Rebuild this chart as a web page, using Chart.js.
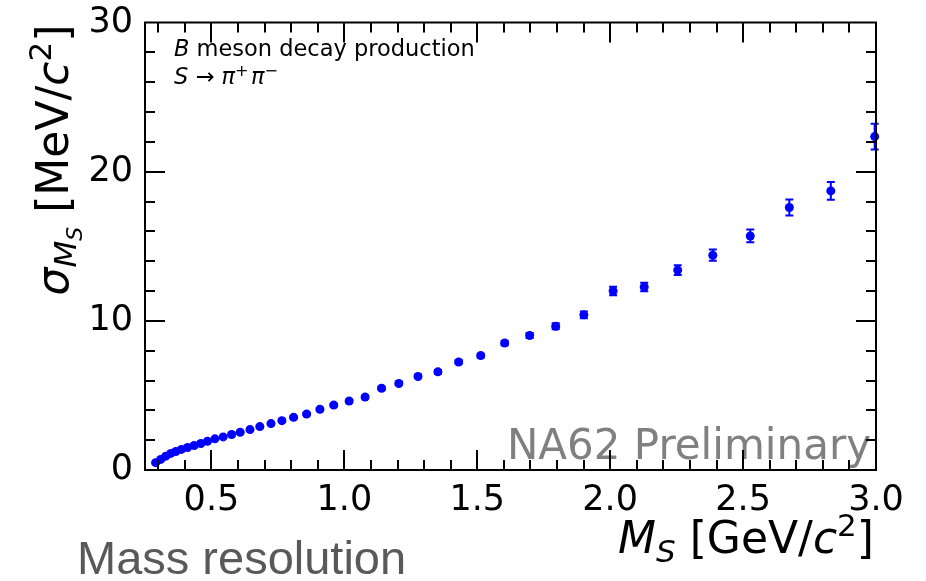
<!DOCTYPE html>
<html>
<head>
<meta charset="utf-8">
<script src="https://cdn.jsdelivr.net/npm/chart.js@4.4.0/dist/chart.umd.min.js"></script>
<style>
  html, body { margin: 0; padding: 0; background: #fff; }
  #wrap { width: 926px; height: 581px; }
</style>
</head>
<body>
<div id="wrap"><canvas id="massChart" width="926" height="581"></canvas></div>
<script>
const massValues = [0.29, 0.309, 0.328, 0.347, 0.366, 0.387, 0.41, 0.435, 0.46, 0.485,
  0.513, 0.544, 0.576, 0.608, 0.645, 0.682, 0.724, 0.765, 0.809, 0.858,
  0.908, 0.96, 1.018, 1.078, 1.14, 1.205, 1.277, 1.352, 1.43, 1.513,
  1.603, 1.697, 1.795, 1.901, 2.011, 2.128, 2.254, 2.386, 2.527, 2.674,
  2.83, 2.995];
const sigmaValues = [0.49, 0.71, 0.93, 1.11, 1.24, 1.38, 1.51, 1.64, 1.78, 1.93,
  2.09, 2.22, 2.38, 2.53, 2.71, 2.91, 3.11, 3.31, 3.53, 3.75,
  4.07, 4.35, 4.62, 4.89, 5.48, 5.8, 6.27, 6.58, 7.24, 7.67,
  8.51, 9.02, 9.64, 10.4, 12.0, 12.27, 13.4, 14.4, 15.69, 17.6,
  18.71, 22.35];
const sigmaErrors = [0.05, 0.05, 0.05, 0.05, 0.05, 0.05, 0.05, 0.05, 0.05, 0.05,
  0.06, 0.06, 0.06, 0.06, 0.07, 0.07, 0.07, 0.08, 0.08, 0.08,
  0.09, 0.09, 0.1, 0.1, 0.1, 0.11, 0.11, 0.12, 0.12, 0.13,
  0.15, 0.17, 0.2, 0.22, 0.29, 0.29, 0.33, 0.38, 0.43, 0.54,
  0.59, 0.86];

const xTickLabels = [0.5, 1.0, 1.5, 2.0, 2.5, 3.0];
const yTickLabels = [0, 10, 20, 30];

const FONT = "'DejaVu Sans', sans-serif";
const ctx = document.getElementById("massChart").getContext("2d");

// draw a run of text pieces (italic / sub / sup) one after another
function drawPieces(c, pieces, x, y, align) {
  let total = 0;
  pieces.forEach((p) => {
    c.font = `${p.italic ? "italic " : ""}${p.size}px ${FONT}`;
    p.w = c.measureText(p.t).width;
    total += p.w;
  });
  let cx = align === "right" ? x - total : align === "center" ? x - total / 2 : x;
  c.textAlign = "left";
  c.textBaseline = "alphabetic";
  pieces.forEach((p) => {
    c.font = `${p.italic ? "italic " : ""}${p.size}px ${FONT}`;
    c.fillText(p.t, cx, y + (p.dy || 0));
    cx += p.w;
  });
}

const errorBars = {
  id: "errorBars",
  afterDatasetsDraw(chart) {
    const c = chart.ctx;
    const xs = chart.scales.x;
    const ys = chart.scales.y;
    c.save();
    c.strokeStyle = "#0000ff";
    c.lineWidth = 2;
    massValues.forEach((m, i) => {
      const px = xs.getPixelForValue(m);
      const top = ys.getPixelForValue(sigmaValues[i] + sigmaErrors[i]);
      const bot = ys.getPixelForValue(sigmaValues[i] - sigmaErrors[i]);
      c.beginPath();
      c.moveTo(px, top);
      c.lineTo(px, bot);
      c.moveTo(px - 4, top);
      c.lineTo(px + 4, top);
      c.moveTo(px - 4, bot);
      c.lineTo(px + 4, bot);
      c.stroke();
    });
    c.restore();
  },
};

const decorations = {
  id: "decorations",
  afterDatasetsDraw(chart) {
    const c = chart.ctx;
    c.save();
    c.fillStyle = "#808080";
    c.font = `42px ${FONT}`;
    c.textAlign = "right";
    c.textBaseline = "alphabetic";
    c.fillText("NA62 Preliminary", 871, 459);
    c.restore();
  },
  afterDraw(chart) {
    const c = chart.ctx;
    const { left, right, top, bottom } = chart.chartArea;
    const xs = chart.scales.x;
    const ys = chart.scales.y;
    c.save();
    c.strokeStyle = "#000";
    c.lineWidth = 2;
    c.strokeRect(left, top, right - left, bottom - top);

    c.beginPath();
    for (let k = 3; k <= 29; k++) {
      const v = k / 10;
      const px = Math.round(xs.getPixelForValue(v));
      const len = k % 5 === 0 ? 20 : 10;
      c.moveTo(px, bottom);
      c.lineTo(px, bottom - len);
      c.moveTo(px, top);
      c.lineTo(px, top + len);
    }
    for (let v = 2; v <= 28; v += 2) {
      const py = Math.round(ys.getPixelForValue(v));
      const len = v % 10 === 0 ? 20 : 10;
      c.moveTo(left, py);
      c.lineTo(left + len, py);
      c.moveTo(right, py);
      c.lineTo(right - len, py);
    }
    c.stroke();

    // axis titles and notes
    c.fillStyle = "#000";
    drawPieces(c, [
      { t: "M", italic: true, size: 44 },
      { t: "S", italic: true, size: 31, dy: 9 },
      { t: " [GeV/", size: 44 },
      { t: "c", italic: true, size: 44 },
      { t: "2", size: 31, dy: -17 },
      { t: "]", size: 44 },
    ], 874, 553, "right");

    c.save();
    c.translate(68, 160);
    c.rotate(-Math.PI / 2);
    drawPieces(c, [
      { t: "σ", italic: true, size: 44 },
      { t: "M", italic: true, size: 31, dy: 8 },
      { t: "S", italic: true, size: 22, dy: 14 },
      { t: " [MeV/", size: 44 },
      { t: "c", italic: true, size: 44 },
      { t: "2", size: 31, dy: -17 },
      { t: "]", size: 44 },
    ], 0, 0, "center");
    c.restore();

    drawPieces(c, [
      { t: "B", italic: true, size: 22.5 },
      { t: " meson decay production", size: 22.5 },
    ], 174, 56, "left");
    drawPieces(c, [
      { t: "S", italic: true, size: 22.5 },
      { t: " → ", size: 22.5 },
      { t: "π", italic: true, size: 22.5 },
      { t: "+", size: 16, dy: -8 },
      { t: " ", size: 8 },
      { t: "π", italic: true, size: 22.5 },
      { t: "−", size: 16, dy: -8 },
    ], 174, 84, "left");

    c.fillStyle = "#595959";
    c.font = "47px 'Liberation Sans', Arial, sans-serif";
    c.textAlign = "left";
    c.fillText("Mass resolution", 77, 574);
    c.restore();
  },
};

const chart = new Chart(ctx, {
  type: "scatter",
  data: {
    datasets: [
      {
        label: "sigma",
        data: massValues.map((m, i) => ({ x: m, y: sigmaValues[i] })),
        backgroundColor: "#0000ff",
        borderWidth: 0,
        pointRadius: 4.5,
        pointHoverRadius: 4.5,
        clip: false,
      },
    ],
  },
  options: {
    responsive: false,
    devicePixelRatio: 1,
    animation: false,
    layout: { padding: { left: 0, right: 50, top: 19, bottom: 0 } },
    plugins: {
      legend: { display: false },
      tooltip: { enabled: false },
    },
    scales: {
      x: {
        type: "linear",
        min: 0.25,
        max: 3.0,
        grid: { display: false, drawTicks: false },
        border: { display: false },
        afterFit: (s) => { s.height = 111; },
        afterBuildTicks: (s) => { s.ticks = xTickLabels.map((v) => ({ value: v })); },
        ticks: {
          color: "#000",
          padding: 10,
          maxRotation: 0,
          font: { family: "DejaVu Sans", size: 35 },
          callback: (v) => Number(v).toFixed(1),
        },
      },
      y: {
        type: "linear",
        min: 0,
        max: 30,
        grid: { display: false, drawTicks: false },
        border: { display: false },
        afterFit: (s) => { s.width = 145; },
        afterBuildTicks: (s) => { s.ticks = yTickLabels.map((v) => ({ value: v })); },
        ticks: {
          color: "#000",
          padding: 12,
          font: { family: "DejaVu Sans", size: 35, lineHeight: 0.6 },
        },
      },
    },
  },
  plugins: [errorBars, decorations],
});
</script>
</body>
</html>
